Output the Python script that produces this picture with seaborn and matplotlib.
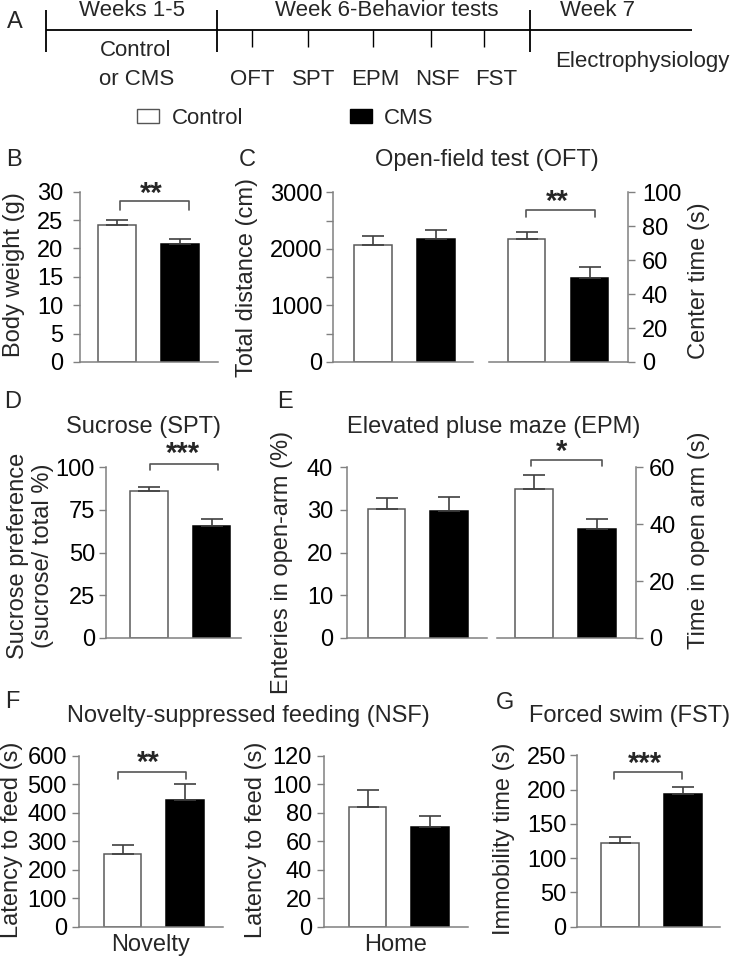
import numpy as np
import pandas as pd
import matplotlib
matplotlib.use("Agg")
import matplotlib.pyplot as plt
import seaborn as sns
from matplotlib.patches import Patch

# ---------------- data ----------------
groups = ["Control", "CMS"]
body_weight = [24.2, 20.8]
body_weight_err = [0.9, 0.8]
total_distance = [2077, 2183]
total_distance_err = [147, 158]
center_time = [72.5, 49.6]
center_time_err = [4.4, 6.5]
sucrose_pref = [86.4, 65.7]
sucrose_pref_err = [2.1, 3.9]
open_arm_entries = [30.2, 29.8]
open_arm_entries_err = [2.6, 3.25]
open_arm_time = [52.4, 38.2]
open_arm_time_err = [4.8, 3.8]
nsf_novelty = [255, 444]
nsf_novelty_err = [31, 59]
nsf_home = [84.4, 69.9]
nsf_home_err = [11.9, 8.1]
fst_immobility = [122.6, 194.1]
fst_immobility_err = [8.7, 9.8]

timeline_weeks = ["Weeks 1-5", "Week 6-Behavior tests", "Week 7"]
timeline_sub = ["Control", "or CMS", "Electrophysiology"]
tests = ["OFT", "SPT", "EPM", "NSF", "FST"]

W, H = 734, 957
FS = 17
sns.set_style("ticks")
plt.rcParams["font.family"] = ["Liberation Sans", "DejaVu Sans"]
plt.rcParams["font.size"] = FS

fig = plt.figure(figsize=(W / 100, H / 100), dpi=100)
palette = {"Control": "white", "CMS": "black"}
SPINE = "#808080"
EB = "#404040"


def rect(x0, x1, yt, yb):
    return [x0 / W, 1 - yb / H, (x1 - x0) / W, (yb - yt) / H]


def panel(pos, centers, vals, errs, yticks, yticklabels, ylabel, lab_x, lab_yf,
          side="left", xlabel=None, pad=5):
    ax = fig.add_axes(rect(*pos))
    df = pd.DataFrame({"group": groups, "value": vals})
    sns.barplot(data=df, x="group", y="value", hue="group", order=groups,
                hue_order=groups, palette=palette, width=0.6, linewidth=1.1,
                edgecolor="#5a5a5a", errorbar=None, legend=False, ax=ax)
    for p, ec in zip(ax.patches, ["#5a5a5a", "black"]):
        p.set_edgecolor(ec)
        p.set_zorder(2)
    for p, v, e in zip(ax.patches, vals, errs):
        xc = p.get_x() + p.get_width() / 2
        ax.errorbar(xc, v, yerr=[[0], [e]], fmt="none", ecolor=EB,
                    elinewidth=1.2, capsize=8, capthick=1.2, zorder=3)
    x0, x1 = pos[0], pos[1]
    c0, c1 = centers
    u = c1 - c0
    ax.set_xlim((x0 - c0) / u, 1 + (x1 - c1) / u)
    ax.set_ylim(yticks[0], yticks[-1])
    ax.set_yticks(yticks, yticklabels)
    ax.set_xticks([])
    ax.set_xlabel(xlabel if xlabel else "", fontsize=FS, labelpad=5)
    ax.tick_params(axis="y", length=5, width=1, color=SPINE, pad=pad,
                   labelsize=FS, labelcolor="black")
    ax.spines["top"].set_visible(False)
    for s in ["left", "right", "bottom"]:
        ax.spines[s].set_color(SPINE)
        ax.spines[s].set_linewidth(1.1)
    if side == "left":
        ax.spines["right"].set_visible(False)
    else:
        ax.spines["left"].set_visible(False)
        ax.yaxis.tick_right()
        ax.yaxis.set_label_position("right")
    ax.set_ylabel(ylabel, fontsize=FS)
    ax.yaxis.set_label_coords((lab_x - x0) / (x1 - x0), lab_yf)
    ax.set_facecolor("none")
    return ax


def bracket(ax, xa, xb, ytop, ydrop, stars, sx, sy):
    ax.plot([xa, xa, xb, xb], [ydrop, ytop, ytop, ydrop], color="#555555",
            lw=1.2, clip_on=False, zorder=4)
    ax.text(sx, sy, stars, ha="center", va="center", fontsize=21,
            fontweight="bold", clip_on=False)


# ---------------- panel A: timeline ----------------
axT = fig.add_axes([0, 1 - 140 / H, 1, 140 / H])
axT.set_xlim(0, W)
axT.set_ylim(140, 0)
axT.axis("off")
axT.hlines(30, 46, 692, color="black", lw=1.3)
axT.vlines([46, 216.5, 530], 10, 52, color="black", lw=1.3)
test_x = [252, 308, 373, 431, 484]
axT.vlines(test_x, 30, 47, color="black", lw=1.0)
for s, x in zip(timeline_weeks, [132, 387, 598]):
    axT.text(x, 10.5, s, ha="center", va="center", fontsize=16)
axT.text(136, 50, timeline_sub[0], ha="center", va="center", fontsize=16)
axT.text(137, 79.5, timeline_sub[1], ha="center", va="center", fontsize=16)
axT.text(642, 61, timeline_sub[2], ha="center", va="center", fontsize=16)
for s, x in zip(tests, [252, 314, 375, 437, 496]):
    axT.text(x, 79.5, s, ha="center", va="center", fontsize=16)

fig.legend(handles=[Patch(facecolor="white", edgecolor="#555555", lw=1),
                    Patch(facecolor="black", edgecolor="black")],
           labels=groups, loc="center left",
           bbox_to_anchor=(137 / W, 1 - 118 / H), ncol=2, frameon=False,
           fontsize=16, handlelength=1.0, handleheight=0.6, handletextpad=0.55,
           columnspacing=4.8, borderpad=0, borderaxespad=0)

# panel letters
for s, x, y in [("A", 15, 22), ("B", 14, 160), ("C", 247, 160), ("D", 13, 402),
                ("E", 285, 402), ("F", 12, 702), ("G", 505, 703)]:
    fig.text(x / W, 1 - y / H, s, ha="center", va="center", fontsize=FS)

# titles
for s, x, y in [("Open-field test (OFT)", 487, 160), ("Sucrose (SPT)", 143, 427),
                ("Elevated pluse maze (EPM)", 494, 427),
                ("Novelty-suppressed feeding (NSF)", 248, 716),
                ("Forced swim (FST)", 630, 716)]:
    fig.text(x / W, 1 - y / H, s, ha="center", va="center", fontsize=FS)

# ---------------- panel B ----------------
axB = panel((80, 218, 191.7, 362), (117, 180), body_weight, body_weight_err,
            [0, 5, 10, 15, 20, 25, 30], ["0", "5", "10", "15", "20", "25", "30"],
            "Body weight (g)", 25, 0.515, pad=7)
bracket(axB, 0.05, 1.14, 28.3, 26.7, "**", 0.55, 29.6)

# ---------------- panel C ----------------
axC1 = panel((333, 473, 192.3, 362), (373, 436), total_distance, total_distance_err,
             [0, 500, 1000, 1500, 2000, 2500, 3000],
             ["0", "", "1000", "", "2000", "", "3000"],
             "Total distance (cm)", 258, 0.5, pad=2.5)
axC2 = panel((489, 628, 192.3, 362), (526.5, 589.5), center_time, center_time_err,
             [0, 20, 40, 60, 80, 100], ["0", "20", "40", "60", "80", "100"],
             "Center time (s)", 688, 0.48, side="right", pad=5)
bracket(axC2, -0.01, 1.08, 89.8, 85.5, "**", 0.48, 94.5)

# ---------------- panel D ----------------
axD = panel((106, 241, 467.3, 638), (149, 211.5), sucrose_pref, sucrose_pref_err,
            [0, 25, 50, 75, 100], ["0", "25", "50", "75", "100"],
            "Sucrose preference\n(sucrose/ total %)", 54, 0.48, pad=3)
bracket(axD, 0.02, 1.10, 102.2, 98.2, "***", 0.54, 108.0)

# ---------------- panel E ----------------
axE1 = panel((347, 487, 467.3, 638), (386.5, 449), open_arm_entries,
             open_arm_entries_err, [0, 10, 20, 30, 40], ["0", "10", "20", "30", "40"],
             "Enteries in open-arm (%)", 293, 0.44, pad=5)
axE2 = panel((497, 636, 467.3, 638), (534, 597), open_arm_time, open_arm_time_err,
             [0, 20, 40, 60], ["0", "20", "40", "60"],
             "Time in open arm (s)", 688, 0.57, side="right", pad=4.5)
bracket(axE2, -0.04, 1.08, 62.7, 60.4, "*", 0.43, 65.5)

# ---------------- panel F ----------------
axF1 = panel((79, 223, 756, 926.7), (122.7, 185), nsf_novelty, nsf_novelty_err,
             [0, 100, 200, 300, 400, 500, 600],
             ["0", "100", "200", "300", "400", "500", "600"],
             "Latency to feed (s)", 23, 0.51, xlabel="Novelty", pad=3.8)
bracket(axF1, -0.075, 1.02, 543.8, 520, "**", 0.41, 575)
axF2 = panel((324, 468, 756, 926.7), (367.7, 430), nsf_home, nsf_home_err,
             [0, 20, 40, 60, 80, 100, 120],
             ["0", "20", "40", "60", "80", "100", "120"],
             "Latency to feed (s)", 267, 0.51, xlabel="Home", pad=3.8)

# ---------------- panel G ----------------
axG = panel((577, 720, 755.3, 926.7), (620, 682.7), fst_immobility,
            fst_immobility_err, [0, 50, 100, 150, 200, 250],
            ["0", "50", "100", "150", "200", "250"],
            "Immobility time (s)", 515, 0.51, pad=2.5)
bracket(axG, -0.1, 0.99, 225.8, 215.1, "***", 0.39, 237)

fig.savefig("out.png", dpi=100)
